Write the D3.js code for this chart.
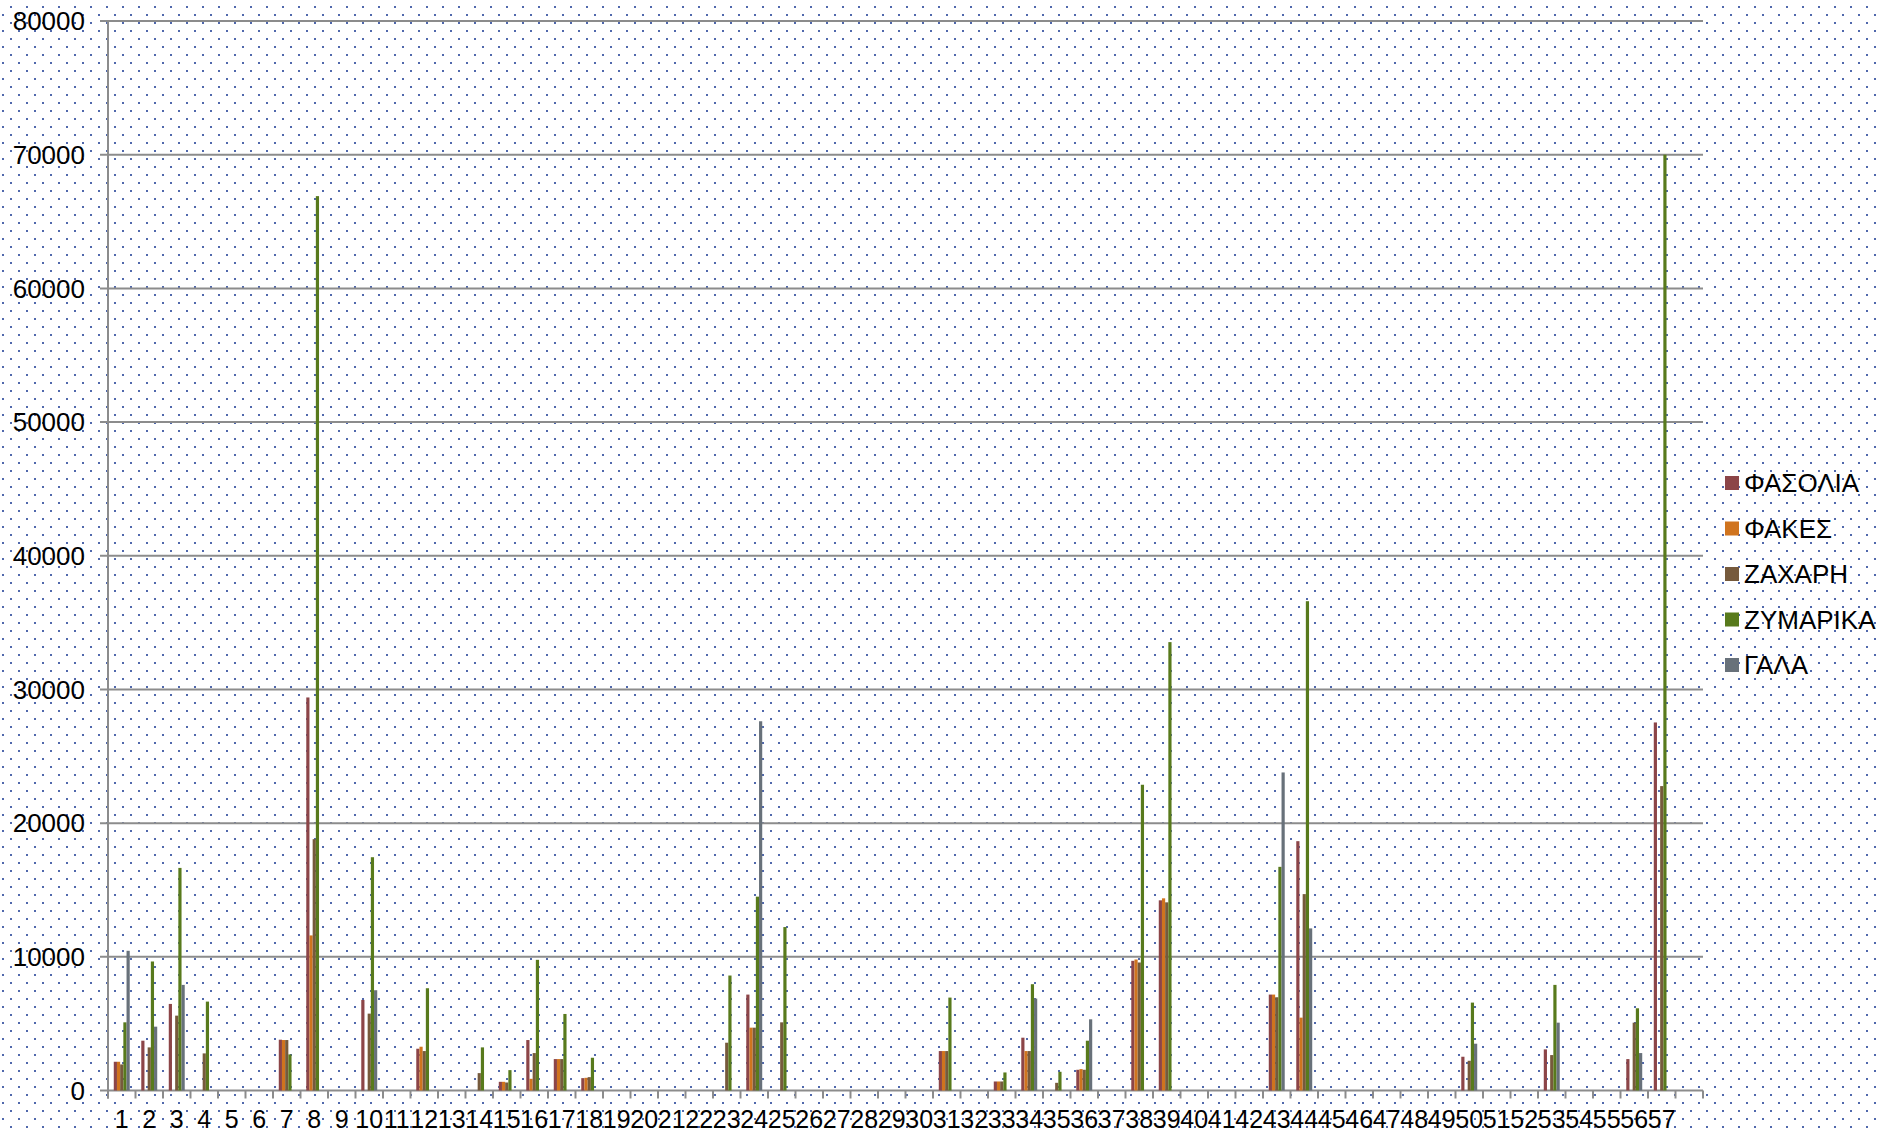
<!DOCTYPE html>
<html>
<head>
<meta charset="utf-8">
<script src="https://cdn.jsdelivr.net/npm/d3@7/dist/d3.min.js"></script>
<style>
  html, body { margin: 0; padding: 0; background: #fff; }
  svg { display: block; font-family: "Liberation Sans", Arial, sans-serif; }
</style>
</head>
<body>
<div id="chart"></div>
<script>
// categories (last one is an empty slot, as in the original)
var categories = ["1","2","3","4","5","6","7","8","9","10","11","12","13","14","15","16","17","18","19","20",
  "21","22","23","24","25","26","27","28","29","30","31","32","33","34","35","36","37","38","39","40",
  "41","42","43","44","45","46","47","48","49","50","51","52","53","54","55","56","57",""];

var seriesNames = ["ΦΑΣΟΛΙΑ", "ΦΑΚΕΣ", "ΖΑΧΑΡΗ", "ΖΥΜΑΡΙΚΑ", "ΓΑΛΑ"];
var seriesColors = ["#8c4548", "#d0741e", "#765a3c", "#587a1c", "#68717a"];

var fasolia = [2150,3725,6475,0,0,0,3800,29400,0,6775, 0,3125,0,0,650,3775,2350,925,0,0,
  0,0,0,7175,0,0,0,0,0,0, 2950,0,675,3950,0,1550,0,9700,14225,0, 0,0,7175,18650,0,0,0,0,0,2525,
  0,0,3075,0,0,2350,27530,0];
var fakes = [2150,0,0,0,0,0,3775,11600,0,0, 0,3275,0,0,650,875,2350,950,0,0,
  0,0,0,4700,0,0,0,0,0,0, 2950,0,675,2950,0,1600,0,9800,14375,0, 0,0,7175,5450,0,0,0,0,0,0,
  0,0,0,0,0,0,0,0];
var zaxari = [1950,3225,5600,2775,0,0,3775,18800,0,5750, 0,2950,0,1300,600,2800,2350,1000,0,0,
  0,0,3575,4700,5100,0,0,0,0,0, 2950,0,675,2950,575,1550,0,9575,14075,0, 0,0,6975,14690,0,0,0,0,0,2225,
  0,0,2650,0,0,5075,22770,0];
var zymarika = [5100,9650,16650,6650,0,0,2700,66900,0,17450, 0,7650,0,3225,1525,9775,5725,2450,0,0,
  0,0,8600,14500,12225,0,0,0,0,0, 6950,0,1350,7950,1400,3725,0,22870,33540,0, 0,0,16730,36600,0,0,0,0,0,6575,
  0,0,7900,0,0,6150,70000,0];
var gala = [10450,4775,7900,0,0,0,0,0,0,7500, 0,0,0,0,0,0,0,0,0,0,
  0,0,0,27620,0,0,0,0,0,0, 0,0,0,6875,0,5325,0,0,0,0, 0,0,23790,12125,0,0,0,0,0,3500,
  0,0,5075,0,0,2800,0,0];

var yTicks = [0,10000,20000,30000,40000,50000,60000,70000,80000];

var allSeries = [fasolia, fakes, zaxari, zymarika, gala];

var width = 1882, height = 1132;
var margin = { left: 108, right: 1703, top: 21, bottom: 1090.5 };

var svg = d3.select("#chart").append("svg")
  .attr("width", width)
  .attr("height", height);

// dotted background
var defs = svg.append("defs");
var pat = defs.append("pattern")
  .attr("id", "dots")
  .attr("patternUnits", "userSpaceOnUse")
  .attr("width", 16).attr("height", 16)
  .attr("x", 2).attr("y", 6);
pat.append("rect").attr("width", 16).attr("height", 16).attr("fill", "#fff");
pat.append("rect").attr("x", 8).attr("y", 0).attr("width", 2).attr("height", 2).attr("fill", "#5068ac");
pat.append("rect").attr("x", 0).attr("y", 8).attr("width", 2).attr("height", 2).attr("fill", "#5068ac");

svg.append("rect").attr("width", width).attr("height", height).attr("fill", "url(#dots)");

var x0 = d3.scaleBand()
  .domain(categories)
  .range([margin.left, margin.right])
  .paddingInner(0.42)
  .paddingOuter(0.21);

var x1 = d3.scaleBand()
  .domain(d3.range(seriesNames.length))
  .range([0, x0.bandwidth()]);

var y = d3.scaleLinear()
  .domain([0, 80000])
  .range([margin.bottom, margin.top]);

var step = x0.step();

// gridlines
svg.append("g").selectAll("line")
  .data(yTicks)
  .enter().append("line")
  .attr("x1", 100).attr("x2", margin.right)
  .attr("y1", function (d) { return y(d); })
  .attr("y2", function (d) { return y(d); })
  .attr("stroke", "#8c8c8c")
  .attr("stroke-width", 2);

// y axis line
svg.append("line")
  .attr("x1", margin.left).attr("x2", margin.left)
  .attr("y1", margin.top).attr("y2", margin.bottom + 8)
  .attr("stroke", "#8c8c8c").attr("stroke-width", 2);

// x ticks at category boundaries
svg.append("g").selectAll("line")
  .data(d3.range(categories.length + 1))
  .enter().append("line")
  .attr("x1", function (i) { return margin.left + i * step; })
  .attr("x2", function (i) { return margin.left + i * step; })
  .attr("y1", margin.bottom)
  .attr("y2", margin.bottom + 8)
  .attr("stroke", "#8c8c8c").attr("stroke-width", 2);

// y labels
svg.append("g").selectAll("text")
  .data(yTicks)
  .enter().append("text")
  .attr("x", 85)
  .attr("y", function (d) { return y(d); })
  .attr("dy", "0.36em")
  .attr("text-anchor", "end")
  .attr("font-size", 26)
  .attr("fill", "#000")
  .text(function (d) { return d; });

// x labels
svg.append("g").selectAll("text")
  .data(categories)
  .enter().append("text")
  .attr("x", function (d) { return x0(d) + x0.bandwidth() / 2; })
  .attr("y", 1128)
  .attr("text-anchor", "middle")
  .attr("font-size", 25)
  .attr("fill", "#000")
  .text(function (d) { return d; });

// bars
var groups = svg.append("g").selectAll("g")
  .data(categories)
  .enter().append("g")
  .attr("transform", function (d) { return "translate(" + x0(d) + ",0)"; });

groups.selectAll("rect")
  .data(function (d, i) {
    return allSeries.map(function (s, k) { return { k: k, v: s[i] }; });
  })
  .enter().filter(function (d) { return d.v > 0; }).append("rect")
  .attr("x", function (d) { return x1(d.k); })
  .attr("width", x1.bandwidth())
  .attr("y", function (d) { return y(d.v); })
  .attr("height", function (d) { return y(0) - y(d.v); })
  .attr("fill", function (d) { return seriesColors[d.k]; });

// legend
var legend = svg.append("g").selectAll("g")
  .data(seriesNames)
  .enter().append("g")
  .attr("transform", function (d, i) { return "translate(1725," + (483 + i * 45.5) + ")"; });

legend.append("rect")
  .attr("x", 0).attr("y", -7)
  .attr("width", 14).attr("height", 14)
  .attr("fill", function (d, i) { return seriesColors[i]; });

legend.append("text")
  .attr("x", 19)
  .attr("dy", "0.36em")
  .attr("font-size", 26)
  .attr("fill", "#000")
  .text(function (d) { return d; });
</script>
</body>
</html>
